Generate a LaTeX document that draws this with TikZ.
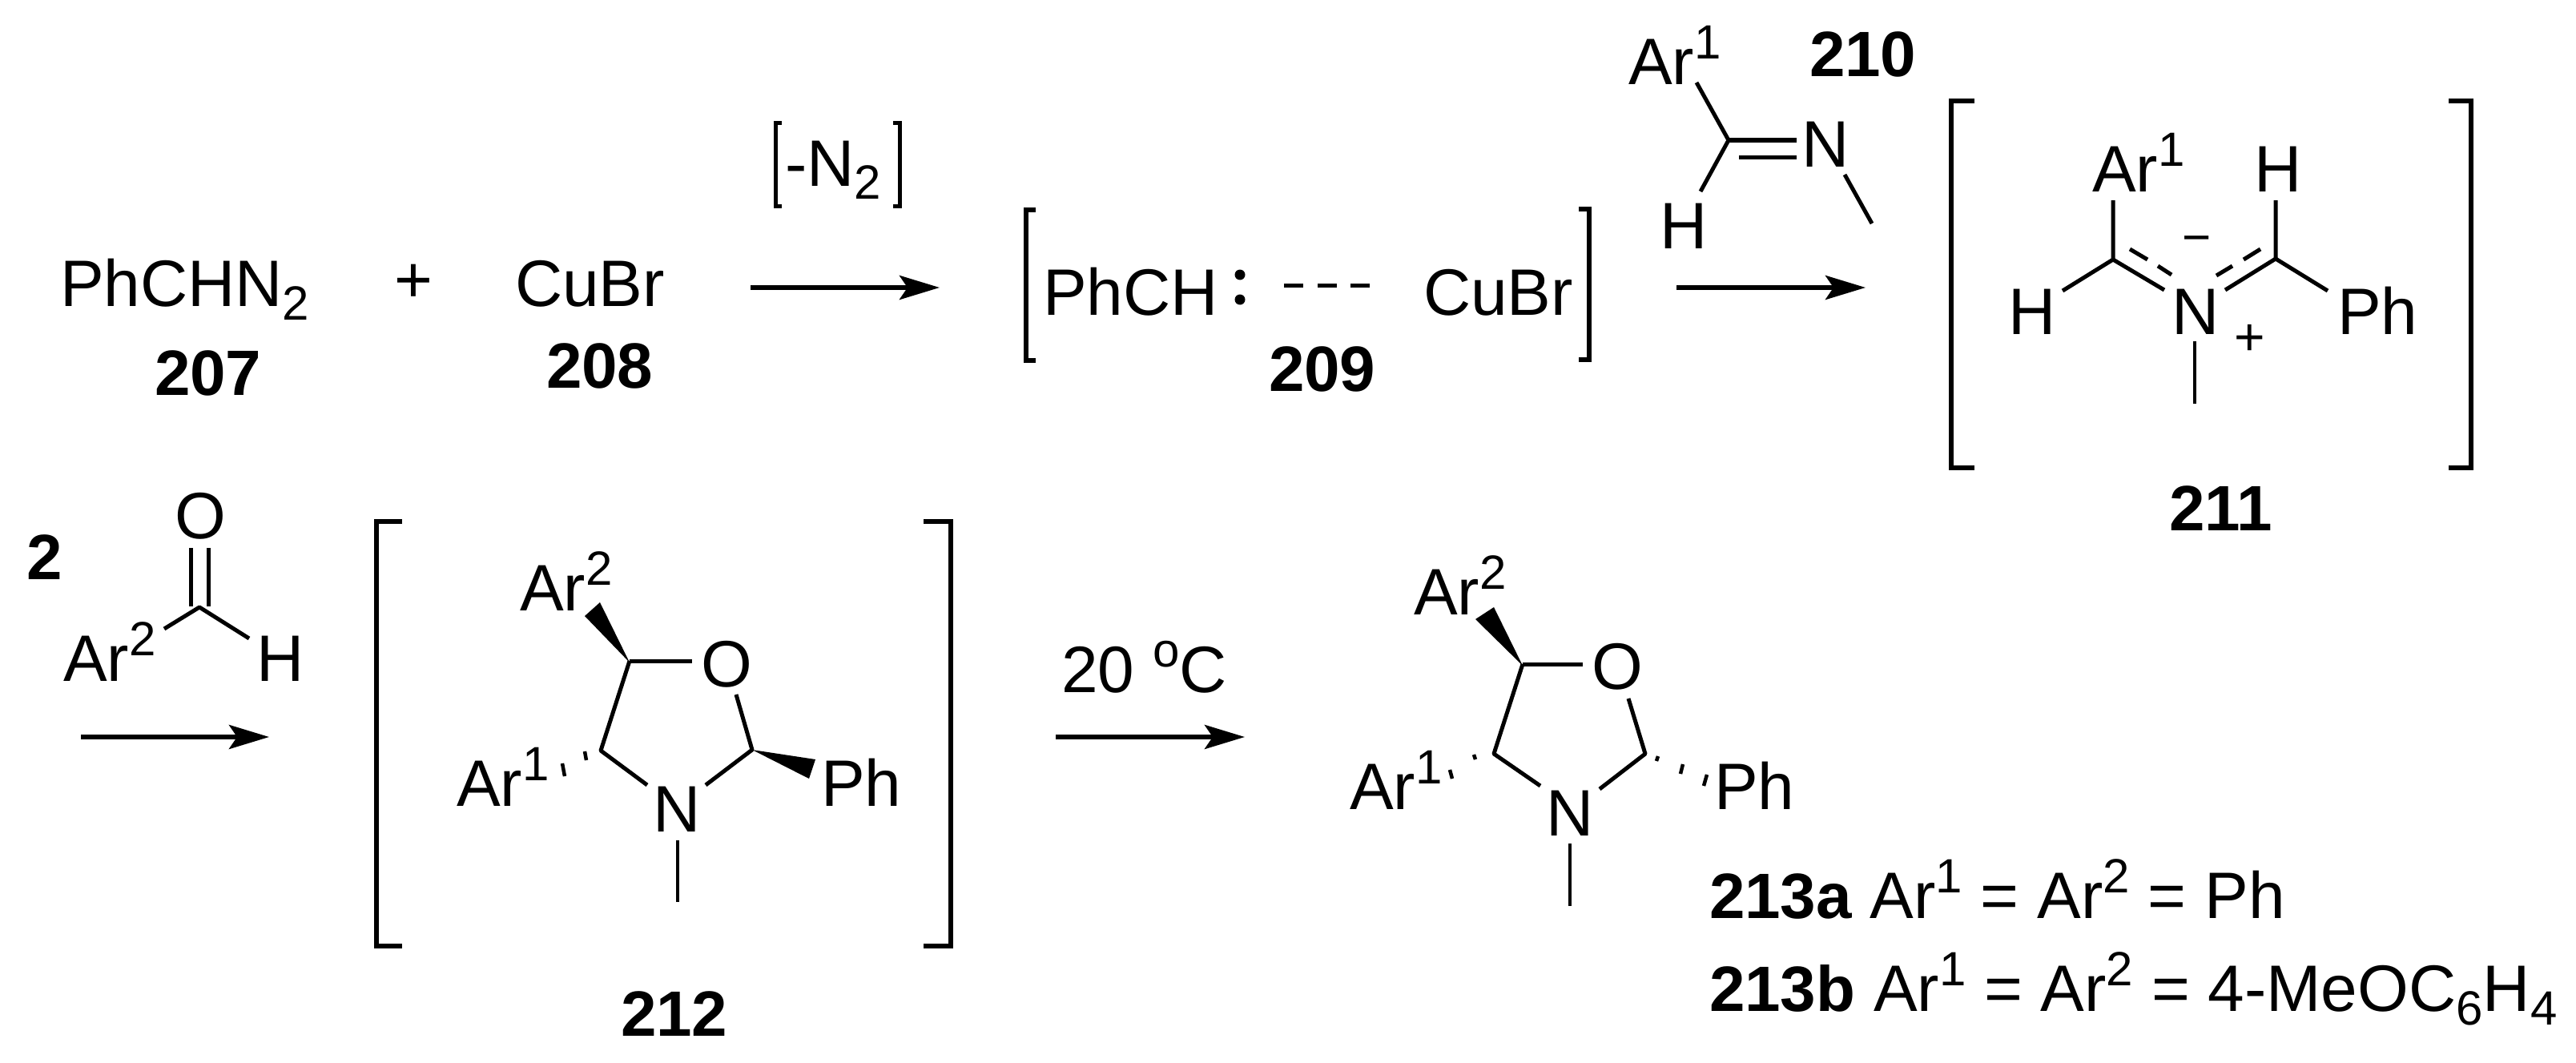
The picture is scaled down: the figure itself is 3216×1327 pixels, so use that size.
\documentclass[tikz,border=0pt]{standalone}
\usepackage{fontspec}
\setmainfont{Liberation Sans}
\usetikzlibrary{arrows.meta}
\newcommand{\supr}[1]{\raisebox{32pt}{\fontsize{60}{60}\selectfont #1}}
\newcommand{\subr}[1]{\raisebox{-17pt}{\fontsize{60}{60}\selectfont #1}}
\tikzset{
  txt/.style={anchor=base west,inner sep=0pt,outer sep=0pt,font=\fontsize{82}{90}\selectfont},
  lbl/.style={txt,font=\fontsize{80}{90}\selectfont\bfseries},
  bond/.style={line width=5pt,line cap=butt,line join=round},
  thinbond/.style={line width=3.2pt},
  brk/.style={line width=6pt,line join=miter},
  brks/.style={line width=5pt,line join=miter},
  rxn/.style={line width=5.5pt,-{Stealth[length=50pt,width=30pt,inset=10pt]}},
  wedge/.style={fill=black,draw=none},
  hash/.style={line width=4.5pt}
}
\begin{document}
\begin{tikzpicture}[x=1pt,y=-1pt]
\useasboundingbox (0,0) rectangle (3216,1327);
\fill[white] (0,0) rectangle (3216,1327);
% top row text
\node[txt] (a207) at (75,382) {PhCHN\subr{2}};
\node[lbl] (n207) at (193,493) {207};
\node[txt,anchor=center] (plus) at (516,354) {+};
\node[txt] (b208) at (643,382) {CuBr};
\node[lbl] (n208) at (682,484) {208};
% [-N2]
\draw[brks] (976,154) -- (968,154) -- (968,257) -- (976,257);
\draw[brks] (1115,154) -- (1123,154) -- (1123,257) -- (1115,257);
\node[txt] (loss) at (980,232) {-N\subr{2}};
% arrows
\coordinate (a1s) at (937,359); \coordinate (a1e) at (1173,359);
\draw[rxn] (a1s) -- (a1e);
\coordinate (a2s) at (2093,359); \coordinate (a2e) at (2329,359);
\draw[rxn] (a2s) -- (a2e);
\coordinate (a3s) at (101,920); \coordinate (a3e) at (336,920);
\draw[rxn] (a3s) -- (a3e);
\coordinate (a4s) at (1318,920); \coordinate (a4e) at (1554,920);
\draw[rxn] (a4s) -- (a4e);
% 209
\draw[brk] (1293,262) -- (1281,262) -- (1281,450) -- (1293,450);
\draw[brk] (1971,261) -- (1984,261) -- (1984,449) -- (1971,449);
\node[txt] (c209) at (1302,393) {PhCH};
\fill (1548,343) ellipse (6.5 and 6.5);
\fill (1548,374) ellipse (6.5 and 6.5);
\draw[line width=5pt] (1603,356) -- (1627,356) (1645,356) -- (1669,356) (1686,356) -- (1710,356);
\node[txt] (d209) at (1777,393) {CuBr};
\node[lbl] (n209) at (1584,488) {209};
% 210
\node[txt] (ar210) at (2033,106) {Ar\supr{1}};
\node[lbl] (n210) at (2259,96) {210};
\node[txt] (n210a) at (2249,208) {N};
\node[txt] (h210) at (2072,310) {H};
\draw[bond] (2118,103) -- (2158,175) -- (2123,239);
\draw[bond] (2158,175) -- (2243,175) (2171,196) -- (2243,196);
\draw[bond] (2303,218) -- (2337,279);
% 211
\draw[brk] (2465,126) -- (2436,126) -- (2436,584) -- (2465,584);
\draw[brk] (3057,126) -- (3085,126) -- (3085,584) -- (3057,584);
\node[txt] (ar211) at (2612,239) {Ar\supr{1}};
\node[txt] (h211a) at (2814,239) {H};
\node[txt] (h211b) at (2507,417) {H};
\node[txt] (n211) at (2711,417) {N};
\node[txt] (ph211) at (2918,417) {Ph};
\node[txt,anchor=center,font=\fontsize{62}{70}\selectfont] (minus) at (2743,306) {−};
\node[txt,anchor=center,font=\fontsize{66}{70}\selectfont] (pl211) at (2809,424) {+};
\node[lbl] (l211) at (2708,662) {211};
\draw[bond] (2638,250) -- (2638,324) -- (2575,363);
\draw[bond] (2638,324) -- (2702,362);
\draw[bond] (2841,250) -- (2841,323) -- (2906,363);
\draw[bond] (2841,323) -- (2778,362);
\draw[bond] (2659,311) -- (2681,324) (2694,332) -- (2711,343);
\draw[bond] (2822,311) -- (2801,324) (2787,332) -- (2767,344);
\draw[thinbond] (2740,426) -- (2740,504);
% aldehyde
\node[lbl] (n2) at (33,723) {2};
\node[txt] (o2) at (218,672) {O};
\node[txt] (ar2a) at (79,850) {Ar\supr{2}};
\node[txt] (h2) at (320,850) {H};
\draw[bond] (238,684) -- (238,757) (260,684) -- (260,757);
\draw[bond] (205,785) -- (249,758) -- (311,797);
% 212
\draw[brk] (502,651) -- (470,651) -- (470,1181) -- (502,1181);
\draw[brk] (1153,651) -- (1187,651) -- (1187,1181) -- (1153,1181);
\node[txt] (ar212a) at (649,762) {Ar\supr{2}};
\node[txt] (o212) at (875,857) {O};
\node[txt] (n212) at (815,1038) {N};
\node[txt] (ph212) at (1025,1006) {Ph};
\node[txt] (ar212b) at (570,1006) {Ar\supr{1}};
\node[lbl] (l212) at (775,1293) {212};
\fill[wedge] (786,827) -- (730,769) -- (749,752) -- cycle;
\fill[wedge] (939,936) -- (1018,948) -- (1010,972) -- cycle;
\draw[bond] (786,825) -- (864,825);
\draw[bond] (919,867) -- (939,936) -- (881,980);
\draw[bond] (786,825) -- (750,937) -- (808,980);
\draw[thinbond] (846,1049) -- (846,1126);
\draw[hash] (730,938) -- (732,949) (702,953) -- (705,969);
% 213
\node[txt] (t20) at (1325,864) {20 \supr{o}C};
\node[txt] (ar213a) at (1765,767) {Ar\supr{2}};
\node[txt] (o213) at (1987,860) {O};
\node[txt] (n213) at (1930,1043) {N};
\node[txt] (ph213) at (2140,1010) {Ph};
\node[txt] (ar213b) at (1685,1010) {Ar\supr{1}};
\fill[wedge] (1901,831) -- (1842,773) -- (1865,758) -- cycle;
\draw[bond] (1901,829) -- (1976,829);
\draw[bond] (2033,872) -- (2054,941) -- (1997,985);
\draw[bond] (1901,829) -- (1865,941) -- (1923,981);
\draw[thinbond] (1960,1053) -- (1960,1131);
\draw[hash] (1840,942) -- (1842,948) (1810,961) -- (1813,972);
\draw[hash] (2070,944) -- (2068,950) (2101,954) -- (2098,966) (2131,967) -- (2127,981);
\node[txt] (la) at (2134,1146) {{\fontsize{80}{90}\selectfont\bfseries 213a} Ar\supr{1} = Ar\supr{2} = Ph};
\node[txt] (lb) at (2134,1262) {{\fontsize{80}{90}\selectfont\bfseries 213b} Ar\supr{1} = Ar\supr{2} = 4-MeOC\subr{6}H\subr{4}};
\end{tikzpicture}
\end{document}
